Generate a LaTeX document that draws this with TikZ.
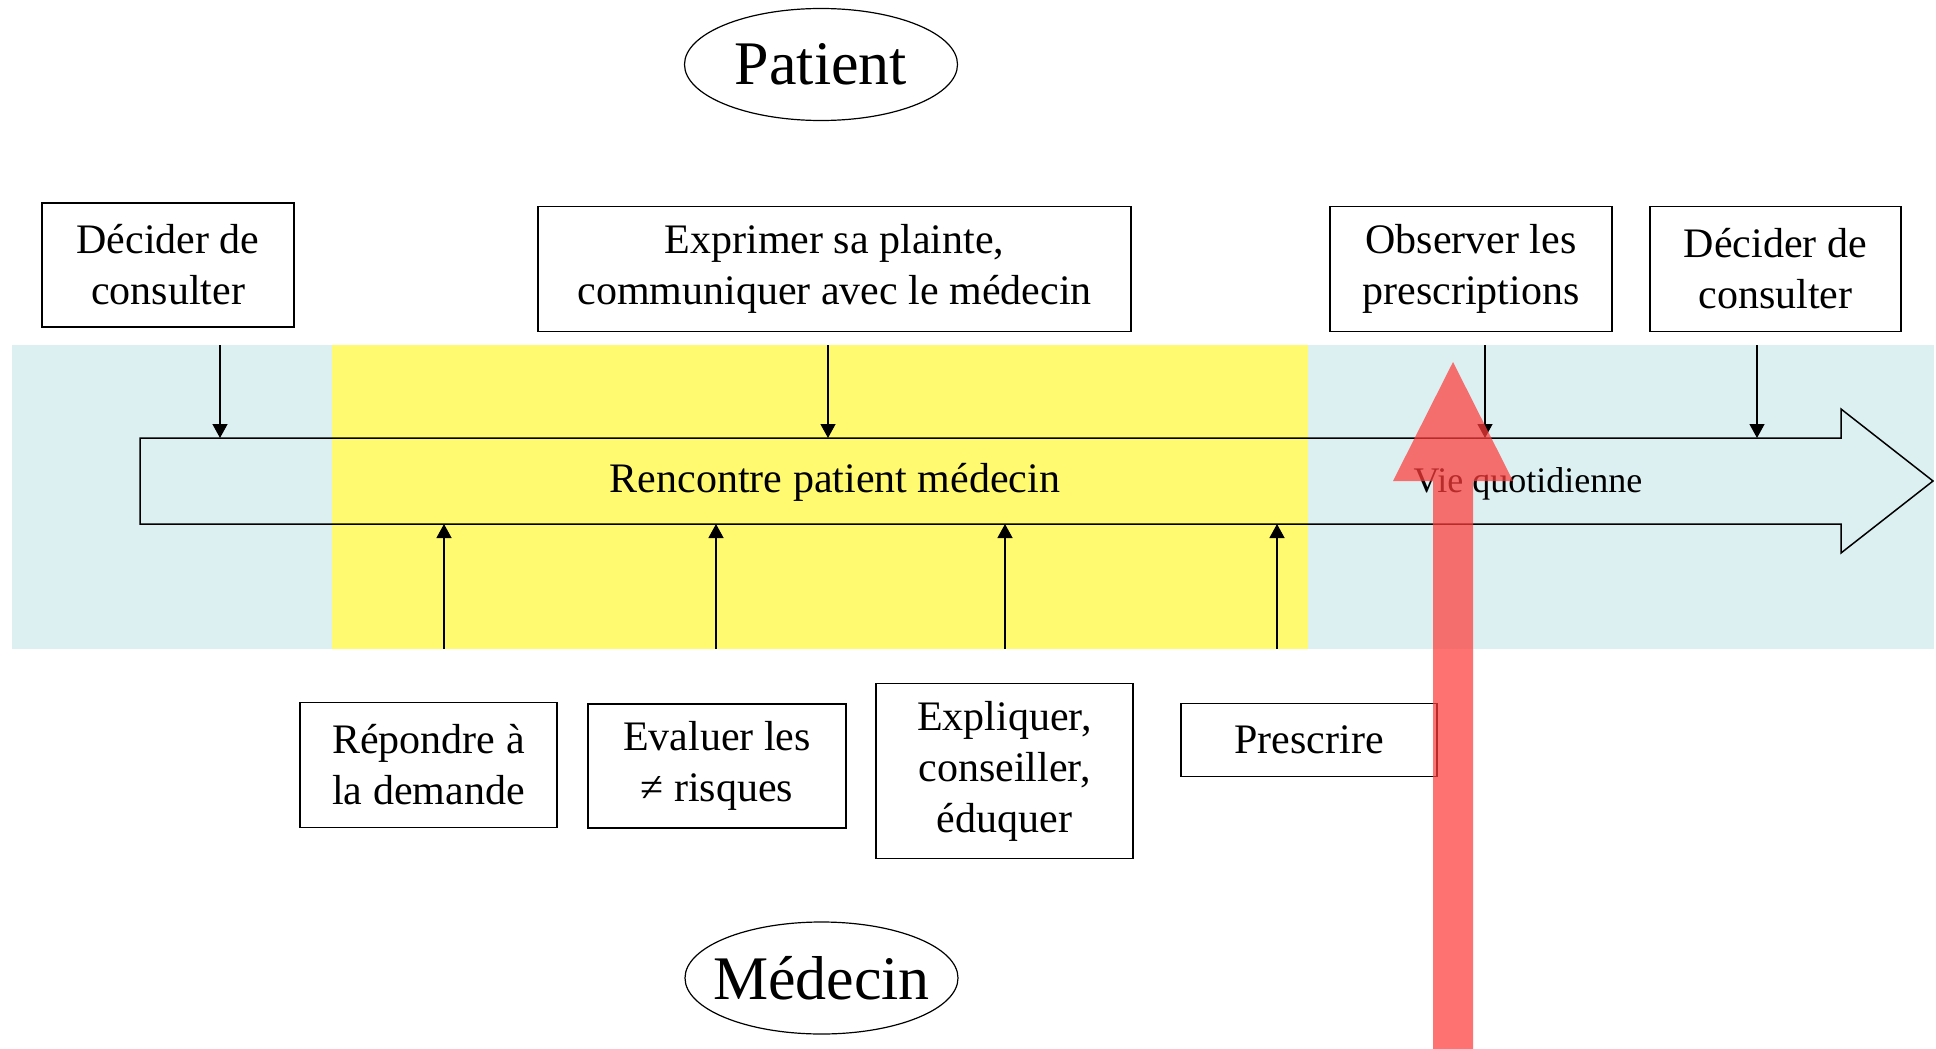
\documentclass[tikz,border=0pt]{standalone}
\usepackage{fontspec}
\setmainfont{Liberation Serif}
\usetikzlibrary{arrows.meta,shapes.geometric}
\definecolor{bandblue}{RGB}{220,240,242}
\definecolor{bandyellow}{RGB}{255,250,112}
\definecolor{redarrow}{RGB}{255,60,60}
\begin{document}
\begin{tikzpicture}[x=1pt,y=-1pt,
  box/.style={draw,line width=1.5pt,fill=white,align=center,inner sep=0pt,font=\fontsize{42}{51}\selectfont},
  oval/.style={draw,ellipse,line width=1.2pt,inner sep=0pt,minimum width=273pt,minimum height=112pt,font=\fontsize{62}{70}\selectfont},
  conn/.style={line width=1.3pt,-{Triangle[length=14pt,width=15pt]}},
  label/.style={inner sep=0pt,anchor=base},
]
\useasboundingbox (0,0) rectangle (1936,1049);
% background band
\fill[bandblue] (12,345) rectangle (1934,649);
\fill[bandyellow] (332,345) rectangle (1308,649);
% big arrow
\draw[line width=1.5pt,line join=miter] (140,438) -- (1841,438) -- (1841,409) -- (1933,481) -- (1841,553) -- (1841,524) -- (140,524) -- cycle;
\node[label,font=\fontsize{42}{51}\selectfont] (rencontre) at (835,492) {Rencontre patient médecin};
\node[label,font=\fontsize{36}{44}\selectfont] (vie) at (1528,492) {Vie quotidienne};
% ellipses
\node[oval] (patient) at (821,64.5) {\makebox[0pt]{Patient}};
\node[oval] (medecin) at (821.5,978) {\makebox[0pt]{Médecin}};
% top boxes
\node[box,minimum width=252pt,minimum height=124pt] (dec1) at (168,265) {Décider de\\consulter};
\node[box,minimum width=593pt,minimum height=125pt] (expr) at (834.5,269) {Exprimer sa plainte,\\communiquer avec le médecin};
\node[box,minimum width=282pt,minimum height=125pt] (obs) at (1471,269) {Observer les\\prescriptions};
\node[box,minimum width=251pt,minimum height=125pt] (dec2) at (1775.5,269) {Décider de\\consulter};
% bottom boxes
\node[box,minimum width=257pt,minimum height=125pt] (rep) at (428.5,765) {Répondre à\\la demande};
\node[box,minimum width=258pt,minimum height=124pt] (eval) at (717,766) {Evaluer les\\≠ risques};
\node[box,minimum width=257pt,minimum height=175pt] (expl) at (1004.5,771) {Expliquer,\\conseiller,\\éduquer};
\node[box,minimum width=256pt,minimum height=73pt] (presc) at (1309,740) {Prescrire};
% connector coordinates
\coordinate (t1) at (220,345);  \coordinate (h1) at (220,438);
\coordinate (t2) at (828,345);  \coordinate (h2) at (828,438);
\coordinate (t3) at (1485,345); \coordinate (h3) at (1485,438);
\coordinate (t4) at (1757,345); \coordinate (h4) at (1757,438);
\coordinate (b1) at (444,649);  \coordinate (u1) at (444,524);
\coordinate (b2) at (716,649);  \coordinate (u2) at (716,524);
\coordinate (b3) at (1005,649); \coordinate (u3) at (1005,524);
\coordinate (b4) at (1277,649); \coordinate (u4) at (1277,524);
\draw[conn] (t1) -- (h1);
\draw[conn] (t2) -- (h2);
\draw[conn] (t3) -- (h3);
\draw[conn] (t4) -- (h4);
\draw[conn] (b1) -- (u1);
\draw[conn] (b2) -- (u2);
\draw[conn] (b3) -- (u3);
\draw[conn] (b4) -- (u4);
% red arrow
\fill[redarrow,fill opacity=0.72] (1433,1049) -- (1433,481) -- (1393,481) -- (1453,362) -- (1513,481) -- (1473,481) -- (1473,1049) -- cycle;
\end{tikzpicture}
\end{document}
